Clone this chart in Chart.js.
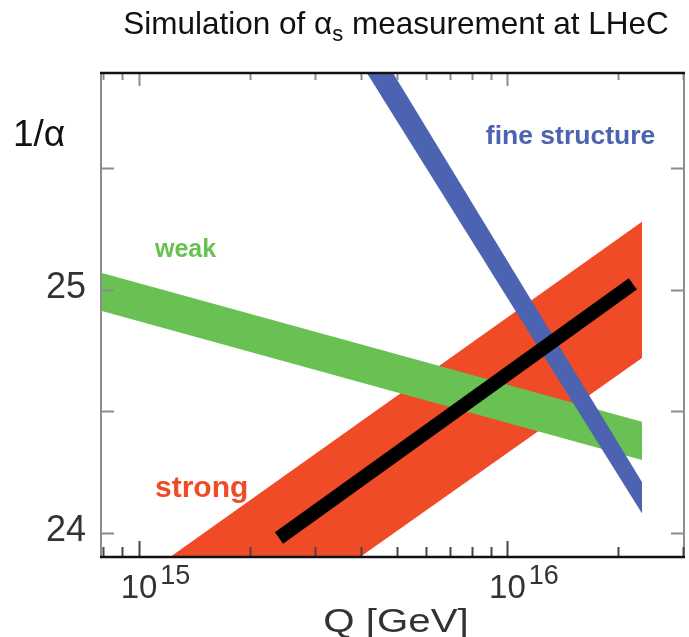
<!DOCTYPE html>
<html>
<head>
<meta charset="utf-8">
<script src="https://cdn.jsdelivr.net/npm/chart.js@4.4.1/dist/chart.umd.min.js"></script>
<style>
  html, body { margin: 0; padding: 0; background: #fff; }
  #chart { display: block; }
</style>
</head>
<body>
<canvas id="chart" width="689" height="637"></canvas>
<script>
// Datos (Q en GeV, 1/alpha)
const qWeak = [7.886e14, 2.32e16];
const weakUpper = [25.071, 24.458];
const weakLower = [24.914, 24.300];

const qFine = [3.5e15, 2.32e16];
const fineUpper = [26.255, 24.209];
const fineLower = [26.074, 24.080];

const qStrong = [1.0e15, 2.32e16];
const strongUpper = [23.810, 25.281];
const strongLower = [23.259, 24.720];

const qFit = [2.399e15, 2.19e16];
const fitLine = [23.979, 25.025];

// Ejes
const xMin = 7.886e14, xMax = 3.015e16;
const yMin = 23.901, yMax = 25.893;
const xTicksMajor = [1e15, 1e16];
const xTickExponents = ['15', '16'];
const xTicksMinor = [8e14, 9e14, 2e15, 3e15, 4e15, 5e15, 6e15, 7e15, 8e15, 9e15, 2e16, 3e16];
const yTicks = [24, 24.5, 25, 25.5];
const yTickLabels = ['24', '', '25', ''];

const COLORS = {
  weak: '#68c152',
  fine: '#4b63b0',
  strong: '#ef4b27',
  fit: '#000000'
};
const FONT = '"Liberation Sans", Arial, Helvetica, sans-serif';

const pts = (xs, ys) => xs.map((x, i) => ({ x, y: ys[i] }));

const band = (label, xs, up, lo, color) => [
  { label: label + ' sup', data: pts(xs, up), borderWidth: 0, pointRadius: 0,
    backgroundColor: color, borderColor: color, fill: '+1', clip: 0 },
  { label: label + ' inf', data: pts(xs, lo), borderWidth: 0, pointRadius: 0,
    borderColor: color, fill: false, clip: 0 }
];

// texto estirado en horizontal
const wideText = (ctx, txt, px, py, sx) => {
  ctx.save();
  ctx.translate(px, py);
  ctx.scale(sx, 1);
  ctx.fillText(txt, 0, 0);
  ctx.restore();
};

// Marco, marcas y textos
const framePlugin = {
  id: 'frame',
  afterDatasetsDraw(chart) {
    const { ctx, chartArea: a, scales: { x, y } } = chart;
    ctx.save();

    // bordes laterales grises
    ctx.strokeStyle = '#8c8c8c';
    ctx.lineWidth = 2;
    ctx.beginPath();
    ctx.moveTo(a.left, a.top); ctx.lineTo(a.left, a.bottom);
    ctx.moveTo(a.right, a.top); ctx.lineTo(a.right, a.bottom);
    ctx.stroke();

    // marcas y
    yTicks.forEach(v => {
      const py = Math.round(y.getPixelForValue(v)) + 0.5;
      ctx.beginPath();
      ctx.moveTo(a.left, py); ctx.lineTo(a.left + 13, py);
      ctx.moveTo(a.right, py); ctx.lineTo(a.right - 13, py);
      ctx.stroke();
    });

    // marcas x arriba y abajo
    const tickX = (v, lenTop, lenBot) => {
      const px = Math.round(x.getPixelForValue(v)) + 0.5;
      ctx.strokeStyle = '#8c8c8c';
      ctx.beginPath();
      ctx.moveTo(px, a.top); ctx.lineTo(px, a.top + lenTop);
      ctx.stroke();
      ctx.strokeStyle = '#444';
      ctx.beginPath();
      ctx.moveTo(px, a.bottom); ctx.lineTo(px, a.bottom - lenBot);
      ctx.stroke();
    };
    xTicksMinor.forEach(v => tickX(v, 7, 10));
    xTicksMajor.forEach(v => tickX(v, 13, 16));

    // bordes superior e inferior negros
    ctx.strokeStyle = '#111';
    ctx.lineWidth = 2.5;
    ctx.beginPath();
    ctx.moveTo(a.left - 1, a.top); ctx.lineTo(a.right + 1, a.top);
    ctx.moveTo(a.left - 1, a.bottom); ctx.lineTo(a.right + 1, a.bottom);
    ctx.stroke();

    // etiquetas y
    ctx.fillStyle = '#333';
    ctx.font = '36px ' + FONT;
    ctx.textAlign = 'right';
    ctx.textBaseline = 'middle';
    yTicks.forEach((v, i) => {
      if (yTickLabels[i]) ctx.fillText(yTickLabels[i], a.left - 15, y.getPixelForValue(v) - 2);
    });

    // etiquetas x con exponente
    xTicksMajor.forEach((v, i) => {
      const px = x.getPixelForValue(v);
      ctx.font = '33px ' + FONT;
      ctx.textAlign = 'center';
      ctx.textBaseline = 'alphabetic';
      ctx.fillText('10', px, a.bottom + 41);
      const w = ctx.measureText('10').width;
      ctx.font = '27px ' + FONT;
      ctx.textAlign = 'left';
      ctx.fillText(xTickExponents[i], px + w / 2 + 3, a.bottom + 27);
    });

    // titulo del eje x
    ctx.font = '33px ' + FONT;
    ctx.textAlign = 'left';
    const wq = ctx.measureText('Q [GeV]').width * 1.22;
    wideText(ctx, 'Q [GeV]', 396 - wq / 2, 632, 1.22);

    // titulo del eje y
    ctx.fillStyle = '#111';
    ctx.font = '37px ' + FONT;
    ctx.fillText('1/\u03b1', 13, 146);

    // titulo con subindice
    const t1 = 'Simulation of ', ta = '\u03b1', ts = 's', t2 = ' measurement at LHeC';
    ctx.font = '31.5px ' + FONT;
    const w1 = ctx.measureText(t1).width, wa = ctx.measureText(ta).width, w2 = ctx.measureText(t2).width;
    ctx.font = '22px ' + FONT;
    const ws = ctx.measureText(ts).width;
    let tx = 396 - (w1 + wa + ws + w2) / 2;
    ctx.font = '31.5px ' + FONT;
    ctx.fillText(t1, tx, 34); tx += w1;
    ctx.fillText(ta, tx, 34); tx += wa;
    ctx.font = '22px ' + FONT;
    ctx.fillText(ts, tx, 41); tx += ws;
    ctx.font = '31.5px ' + FONT;
    ctx.fillText(t2, tx, 34);

    // nombres de las bandas
    ctx.font = 'bold 25px ' + FONT;
    ctx.textBaseline = 'middle';
    ctx.fillStyle = COLORS.weak;
    ctx.fillText('weak', x.getPixelForValue(1.105e15), y.getPixelForValue(25.165));
    ctx.font = 'bold 26.5px ' + FONT;
    ctx.fillStyle = COLORS.fine;
    ctx.fillText('fine structure', x.getPixelForValue(8.74e15), y.getPixelForValue(25.63));
    ctx.font = 'bold 30px ' + FONT;
    ctx.fillStyle = COLORS.strong;
    ctx.fillText('strong', x.getPixelForValue(1.105e15), y.getPixelForValue(24.18));

    ctx.restore();
  }
};

new Chart(document.getElementById('chart'), {
  type: 'line',
  data: {
    datasets: [
      { label: 'ajuste', data: pts(qFit, fitLine), borderColor: COLORS.fit, borderWidth: 14,
        borderCapStyle: 'butt', pointRadius: 0, fill: false, clip: 0 },
      ...band('fine', qFine, fineUpper, fineLower, COLORS.fine),
      ...band('weak', qWeak, weakUpper, weakLower, COLORS.weak),
      ...band('strong', qStrong, strongUpper, strongLower, COLORS.strong)
    ]
  },
  options: {
    responsive: false,
    animation: false,
    layout: { padding: { left: 101, right: 5, top: 73, bottom: 80 } },
    plugins: { legend: { display: false }, tooltip: { enabled: false }, title: { display: false } },
    scales: {
      x: { type: 'logarithmic', min: xMin, max: xMax, display: false },
      y: { type: 'linear', min: yMin, max: yMax, display: false }
    }
  },
  plugins: [framePlugin]
});
</script>
</body>
</html>
